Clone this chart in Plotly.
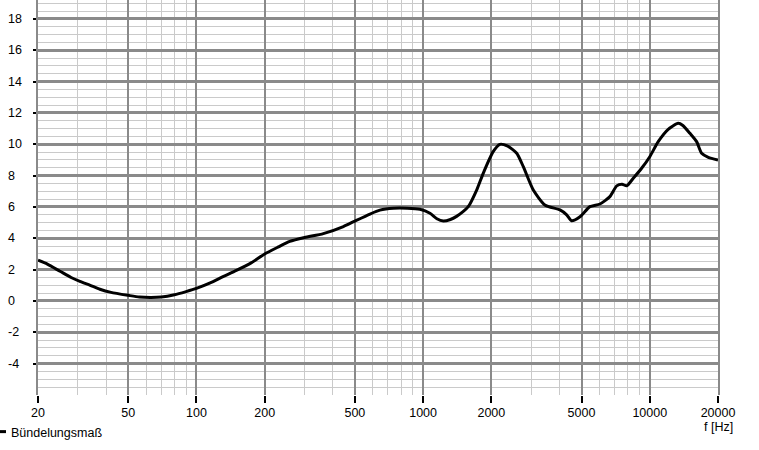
import plotly.graph_objects as go

# Data
freq_hz = [20, 22, 25, 28, 30.6, 34, 37.5, 42, 50, 56, 63, 70, 80, 90, 100, 115, 131, 150, 175, 200,
           230, 258, 300, 363, 445, 500, 583, 645, 740, 850, 968, 1072, 1150, 1227, 1320, 1405, 1500,
           1582, 1723, 1842, 2038, 2180, 2350, 2589, 2768, 3063, 3445, 4016, 4300, 4517, 4921, 5446,
           6028, 6670, 7146, 7550, 7911, 8457, 9204, 10000, 10895, 12058, 13337, 14000, 15032, 16097,
           16940, 18127, 20000]
buendelungsmass = [2.6, 2.35, 1.9, 1.5, 1.25, 1.0, 0.75, 0.55, 0.36, 0.25, 0.22, 0.25, 0.4, 0.6, 0.8,
                   1.15, 1.55, 1.95, 2.45, 3.0, 3.45, 3.8, 4.05, 4.3, 4.75, 5.1, 5.55, 5.8, 5.92, 5.92,
                   5.85, 5.6, 5.25, 5.1, 5.2, 5.4, 5.7, 6.02, 7.08, 8.15, 9.53, 10.0, 9.9, 9.43, 8.57,
                   7.08, 6.13, 5.81, 5.5, 5.12, 5.38, 6.02, 6.19, 6.66, 7.35, 7.45, 7.35, 7.83, 8.47,
                   9.21, 10.17, 10.96, 11.34, 11.2, 10.7, 10.17, 9.43, 9.17, 9.0]

x_major_ticks = [20, 50, 100, 200, 500, 1000, 2000, 5000, 10000, 20000]
x_major_labels = ["20", "50", "100", "200", "500", "1000", "2000", "5000", "10000", "20000"]
x_minor_ticks = [30, 40, 60, 70, 80, 90, 300, 400, 600, 700, 800, 900,
                 3000, 4000, 6000, 7000, 8000, 9000]
y_ticks = [-4, -2, 0, 2, 4, 6, 8, 10, 12, 14, 16, 18]
y_labels = ["-4", "-2", "0", "2", "4", "6", "8", "10", "12", "14", "16", "18"]
series_name = "Bündelungsmaß"
x_title = "f [Hz]"

FONT = "Liberation Sans"
FS = 12.5
W, H = 759, 450
ML, MR, MT, MB = 38, 41, 0, 55
PW = W - ML - MR

fig = go.Figure()
fig.add_trace(go.Scatter(
    x=freq_hz, y=buendelungsmass, mode="lines", name=series_name,
    line=dict(color="black", width=3, shape="spline", smoothing=0.6),
))

fig.update_xaxes(
    type="log", range=[1.30103, 4.30103],
    tickvals=x_major_ticks, ticktext=x_major_labels,
    showgrid=True, gridcolor="#8a8a8a", gridwidth=2,
    ticks="outside", ticklen=7, tickwidth=2, tickcolor="black",
    tickfont=dict(family=FONT, size=FS, color="black"),
    ticklabelstandoff=-1,
    showline=False, zeroline=False,
    minor=dict(tickvals=x_minor_ticks, showgrid=True, gridcolor="#cacaca", gridwidth=1, ticks=""),
)
fig.update_yaxes(
    range=[-6, 19.21], tickvals=y_ticks, showticklabels=False,
    showgrid=True, gridcolor="#8a8a8a", gridwidth=3,
    ticks="outside", ticklen=3, tickwidth=2, tickcolor="black",
    showline=True, mirror=True, linecolor="#8a8a8a", linewidth=2,
    zeroline=False,
    minor=dict(dtick=0.5, showgrid=True, gridcolor="#cacaca", gridwidth=1, ticks=""),
)

annotations = []
for v, t in zip(y_ticks, y_labels):
    annotations.append(dict(
        x=(6 - ML) / PW, xref="paper", y=v, yref="y", text=t, showarrow=False,
        xanchor="left", yanchor="middle", font=dict(family=FONT, size=FS, color="black"),
    ))
annotations.append(dict(
    x=1, xref="paper", y=0, yref="paper", text=x_title, showarrow=False,
    xanchor="center", yanchor="top", yshift=-23,
    font=dict(family=FONT, size=FS, color="black"),
))

fig.update_layout(
    width=W, height=H,
    margin=dict(l=ML, r=MR, t=MT, b=MB, autoexpand=False),
    paper_bgcolor="white", plot_bgcolor="white",
    showlegend=True,
    legend=dict(x=(-29 - ML) / PW, xanchor="left", y=-37 / (H - MT - MB), yanchor="middle",
                bgcolor="rgba(0,0,0,0)", borderwidth=0,
                font=dict(family=FONT, size=FS, color="black")),
    annotations=annotations,
)

fig.write_html("out.html", config={"displayModeBar": False},
               post_script="document.body.style.margin='0';document.body.style.overflow='hidden';")
